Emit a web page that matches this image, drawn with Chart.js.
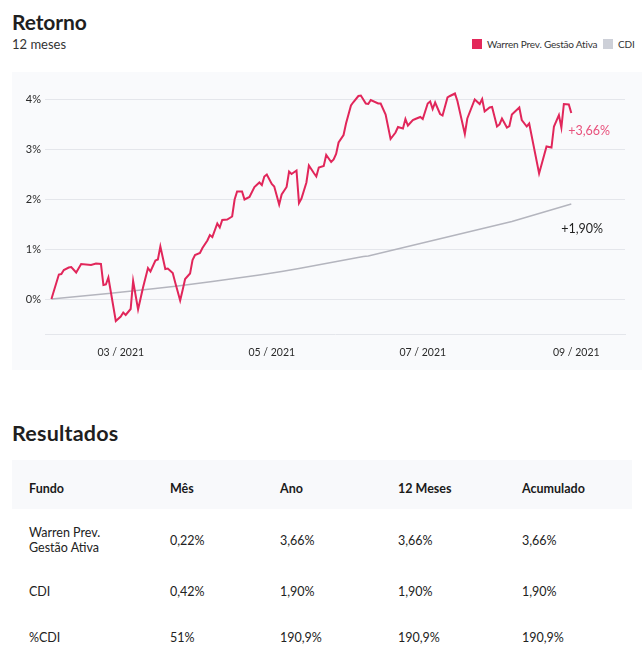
<!DOCTYPE html>
<html>
<head>
<meta charset="utf-8">
<script src="https://cdn.jsdelivr.net/npm/chart.js@4/dist/chart.umd.min.js"></script>
<style>
  html, body { margin:0; padding:0; background:#ffffff; width:642px; height:672px; overflow:hidden; font-family: Lato, "Open Sans", sans-serif; color:#222; }
  .abs { position:absolute; white-space:nowrap; }
  #title { left:12px; top:9px; font-size:21px; font-weight:700; letter-spacing:-0.1px; color:#1f1f1f; }
  #sub { left:12px; top:36px; font-size:13px; color:#333; }
  .leg { top:38px; font-size:10px; letter-spacing:-0.2px; color:#333; display:flex; align-items:center; }
  .sw { width:10px; height:10px; display:inline-block; margin-right:5px; }
  #chartBox { position:absolute; left:12px; top:72px; width:630px; height:298px; background:#f9fafc; }
  #res { left:12px; top:420px; font-size:21.5px; font-weight:700; letter-spacing:0.2px; color:#1f1f1f; }
  #thead { position:absolute; left:12px; top:460px; width:620px; height:49px; background:#f8f9fb; }
  .cell { position:absolute; font-size:12.5px; line-height:15px; color:#222; white-space:nowrap; }
  .hd { font-weight:700; color:#1a1a1a; }
</style>
</head>
<body>
<div id="title" class="abs">Retorno</div>
<div id="sub" class="abs">12 meses</div>
<div class="abs leg" style="left:472px;"><span class="sw" style="background:#e3285a"></span>Warren Prev. Gestão Ativa</div>
<div class="abs leg" style="left:603px;"><span class="sw" style="background:#cdd0d8"></span>CDI</div>
<div id="chartBox"><canvas id="c" width="630" height="298"></canvas></div>
<div id="res" class="abs">Resultados</div>
<div id="thead"></div>
<div id="table"></div>
<script>
// ---- data (x = days since 2021-02-01, y = cumulative return in %) ----
const fundName = "Warren Prev. Gestão Ativa";
const benchName = "CDI";
const fundDays = [0,3,4,5,7,8,10,12,16,18,20,21,22,23,26,28,29,30,32,33,35,36,37,39,40,42,43,44,46,47,49,50,52,53,54,56,57,58,60,61,63,64,65,67,68,69,71,73,74,75,77,78,80,82,84,85,86,87,89,90,92,93,95,96,97,99,100,101,103,104,106,107,108,110,111,113,114,115,116,118,119,121,122,124,125,127,128,129,132,133,135,137,139,140,142,143,144,146,147,149,150,152,153,154,155,157,158,160,161,163,164,167,168,171,173,174,175,177,178,180,181,182,184,185,186,189,190,192,193,197,200,202,203,205,206,207,209,210];
const fundValues = [0.00,0.49,0.50,0.58,0.63,0.64,0.53,0.70,0.68,0.71,0.70,0.28,0.29,0.43,-0.44,-0.35,-0.27,-0.32,-0.20,0.36,-0.21,0.01,0.23,0.62,0.55,0.77,0.79,1.05,0.60,0.61,0.52,0.33,-0.03,0.18,0.40,0.51,0.78,0.88,0.92,1.02,1.17,1.28,1.24,1.51,1.43,1.58,1.59,1.65,1.99,2.15,2.15,1.99,2.04,2.24,2.33,2.28,2.45,2.49,2.30,2.25,1.89,2.09,2.24,2.55,2.50,2.57,1.92,2.01,2.33,2.67,2.52,2.45,2.63,2.66,2.88,2.74,2.79,2.90,3.13,3.28,3.51,3.87,3.94,4.06,4.07,3.91,3.90,3.98,3.91,3.91,3.69,3.20,3.33,3.44,3.41,3.60,3.47,3.58,3.60,3.64,3.60,3.91,3.95,3.80,3.93,3.70,3.67,4.03,4.06,4.11,3.96,3.30,3.61,3.99,3.90,4.00,3.75,3.83,3.84,3.45,3.49,3.61,3.43,3.46,3.69,3.83,3.58,3.45,3.51,2.51,3.05,3.03,3.45,3.68,3.43,3.90,3.89,3.72];
const cdiDays = [0,23,42,51,65,84,93,100,126,128,149,186,210];
const cdiValues = [0.00,0.11,0.21,0.26,0.35,0.48,0.55,0.61,0.85,0.86,1.11,1.55,1.90];
const yTicks = [0,1,2,3,4];
const xTickDays = [28,89,150,212];
const xTickLabels = ["03 / 2021","05 / 2021","07 / 2021","09 / 2021"];
const endLabels = ["+3,66%","+1,90%"];

const tableHeaders = ["Fundo","Mês","Ano","12 Meses","Acumulado"];
const tableRows = [
  ["Warren Prev.\nGestão Ativa","0,22%","3,66%","3,66%","3,66%"],
  ["CDI","0,42%","1,90%","1,90%","1,90%"],
  ["%CDI","51%","190,9%","190,9%","190,9%"]
];

// ---- table ----
const colX = [29,170,280,398,522];
const rowCenters = [540,591,637];
const tbl = document.getElementById('table');
tableHeaders.forEach((h,i)=>{
  const d=document.createElement('div'); d.className='cell hd'; d.textContent=h;
  d.style.left=colX[i]+'px'; d.style.top=(488-7.5)+'px'; tbl.appendChild(d);
});
tableRows.forEach((r,ri)=>{
  r.forEach((v,ci)=>{
    const d=document.createElement('div'); d.className='cell';
    const lines=v.split('\n');
    d.innerHTML=lines.join('<br>');
    d.style.left=colX[ci]+'px';
    d.style.top=(rowCenters[ri]-lines.length*7.5)+'px';
    tbl.appendChild(d);
  });
});

// ---- chart ----
const toPts=(xs,ys)=>xs.map((x,i)=>({x:x,y:ys[i]}));
const gridColor = '#e4e6eb';
const endLabelPlugin = {
  id:'endLabels',
  afterDatasetsDraw(chart){
    const ctx=chart.ctx;
    const styles=[{dx:-3,dy:18,color:'#e8517c'},{dx:-10,dy:25,color:'#1f1f1f'}];
    chart.data.datasets.forEach((ds,i)=>{
      const meta=chart.getDatasetMeta(i);
      const last=meta.data[meta.data.length-1];
      ctx.save();
      ctx.font='12.5px Lato, sans-serif';
      ctx.fillStyle=styles[i].color;
      ctx.textAlign='left'; ctx.textBaseline='middle';
      ctx.fillText(endLabels[i], last.x+styles[i].dx, last.y+styles[i].dy);
      ctx.restore();
    });
  }
};
new Chart(document.getElementById('c'),{
  type:'line',
  data:{datasets:[
    {label:fundName,data:toPts(fundDays,fundValues),borderColor:'#e1265a',borderWidth:2,pointRadius:0,tension:0,fill:false},
    {label:benchName,data:toPts(cdiDays,cdiValues),borderColor:'#b4b5be',borderWidth:1.5,pointRadius:0,tension:0,fill:false}
  ]},
  options:{
    responsive:false,animation:false,
    layout:{padding:{left:0,right:17,top:17,bottom:0}},
    plugins:{legend:{display:false},tooltip:{enabled:false}},
    scales:{
      x:{type:'linear',min:-2.6,max:231.7,
        afterBuildTicks(a){a.ticks=xTickDays.map(v=>({value:v}));},
        afterFit(a){a.height=36;},
        grid:{display:false,drawTicks:false},
        border:{display:true,color:gridColor,width:1},
        ticks:{autoSkip:false,maxRotation:0,padding:12,color:'#2a2a2a',font:{family:'Lato',size:10.5},
          callback(v){const i=xTickDays.indexOf(v);return i>=0?xTickLabels[i]:'';}}
      },
      y:{type:'linear',min:-0.7,max:4.2,
        afterBuildTicks(a){a.ticks=yTicks.map(v=>({value:v}));},
        afterFit(a){a.width=33;},
        grid:{color:gridColor,lineWidth:1,drawTicks:false},
        border:{display:false},
        ticks:{padding:4,color:'#2a2a2a',font:{family:'Lato',size:11},callback(v){return v+'%';}}
      }
    }
  },
  plugins:[endLabelPlugin]
});
</script>
</body>
</html>
